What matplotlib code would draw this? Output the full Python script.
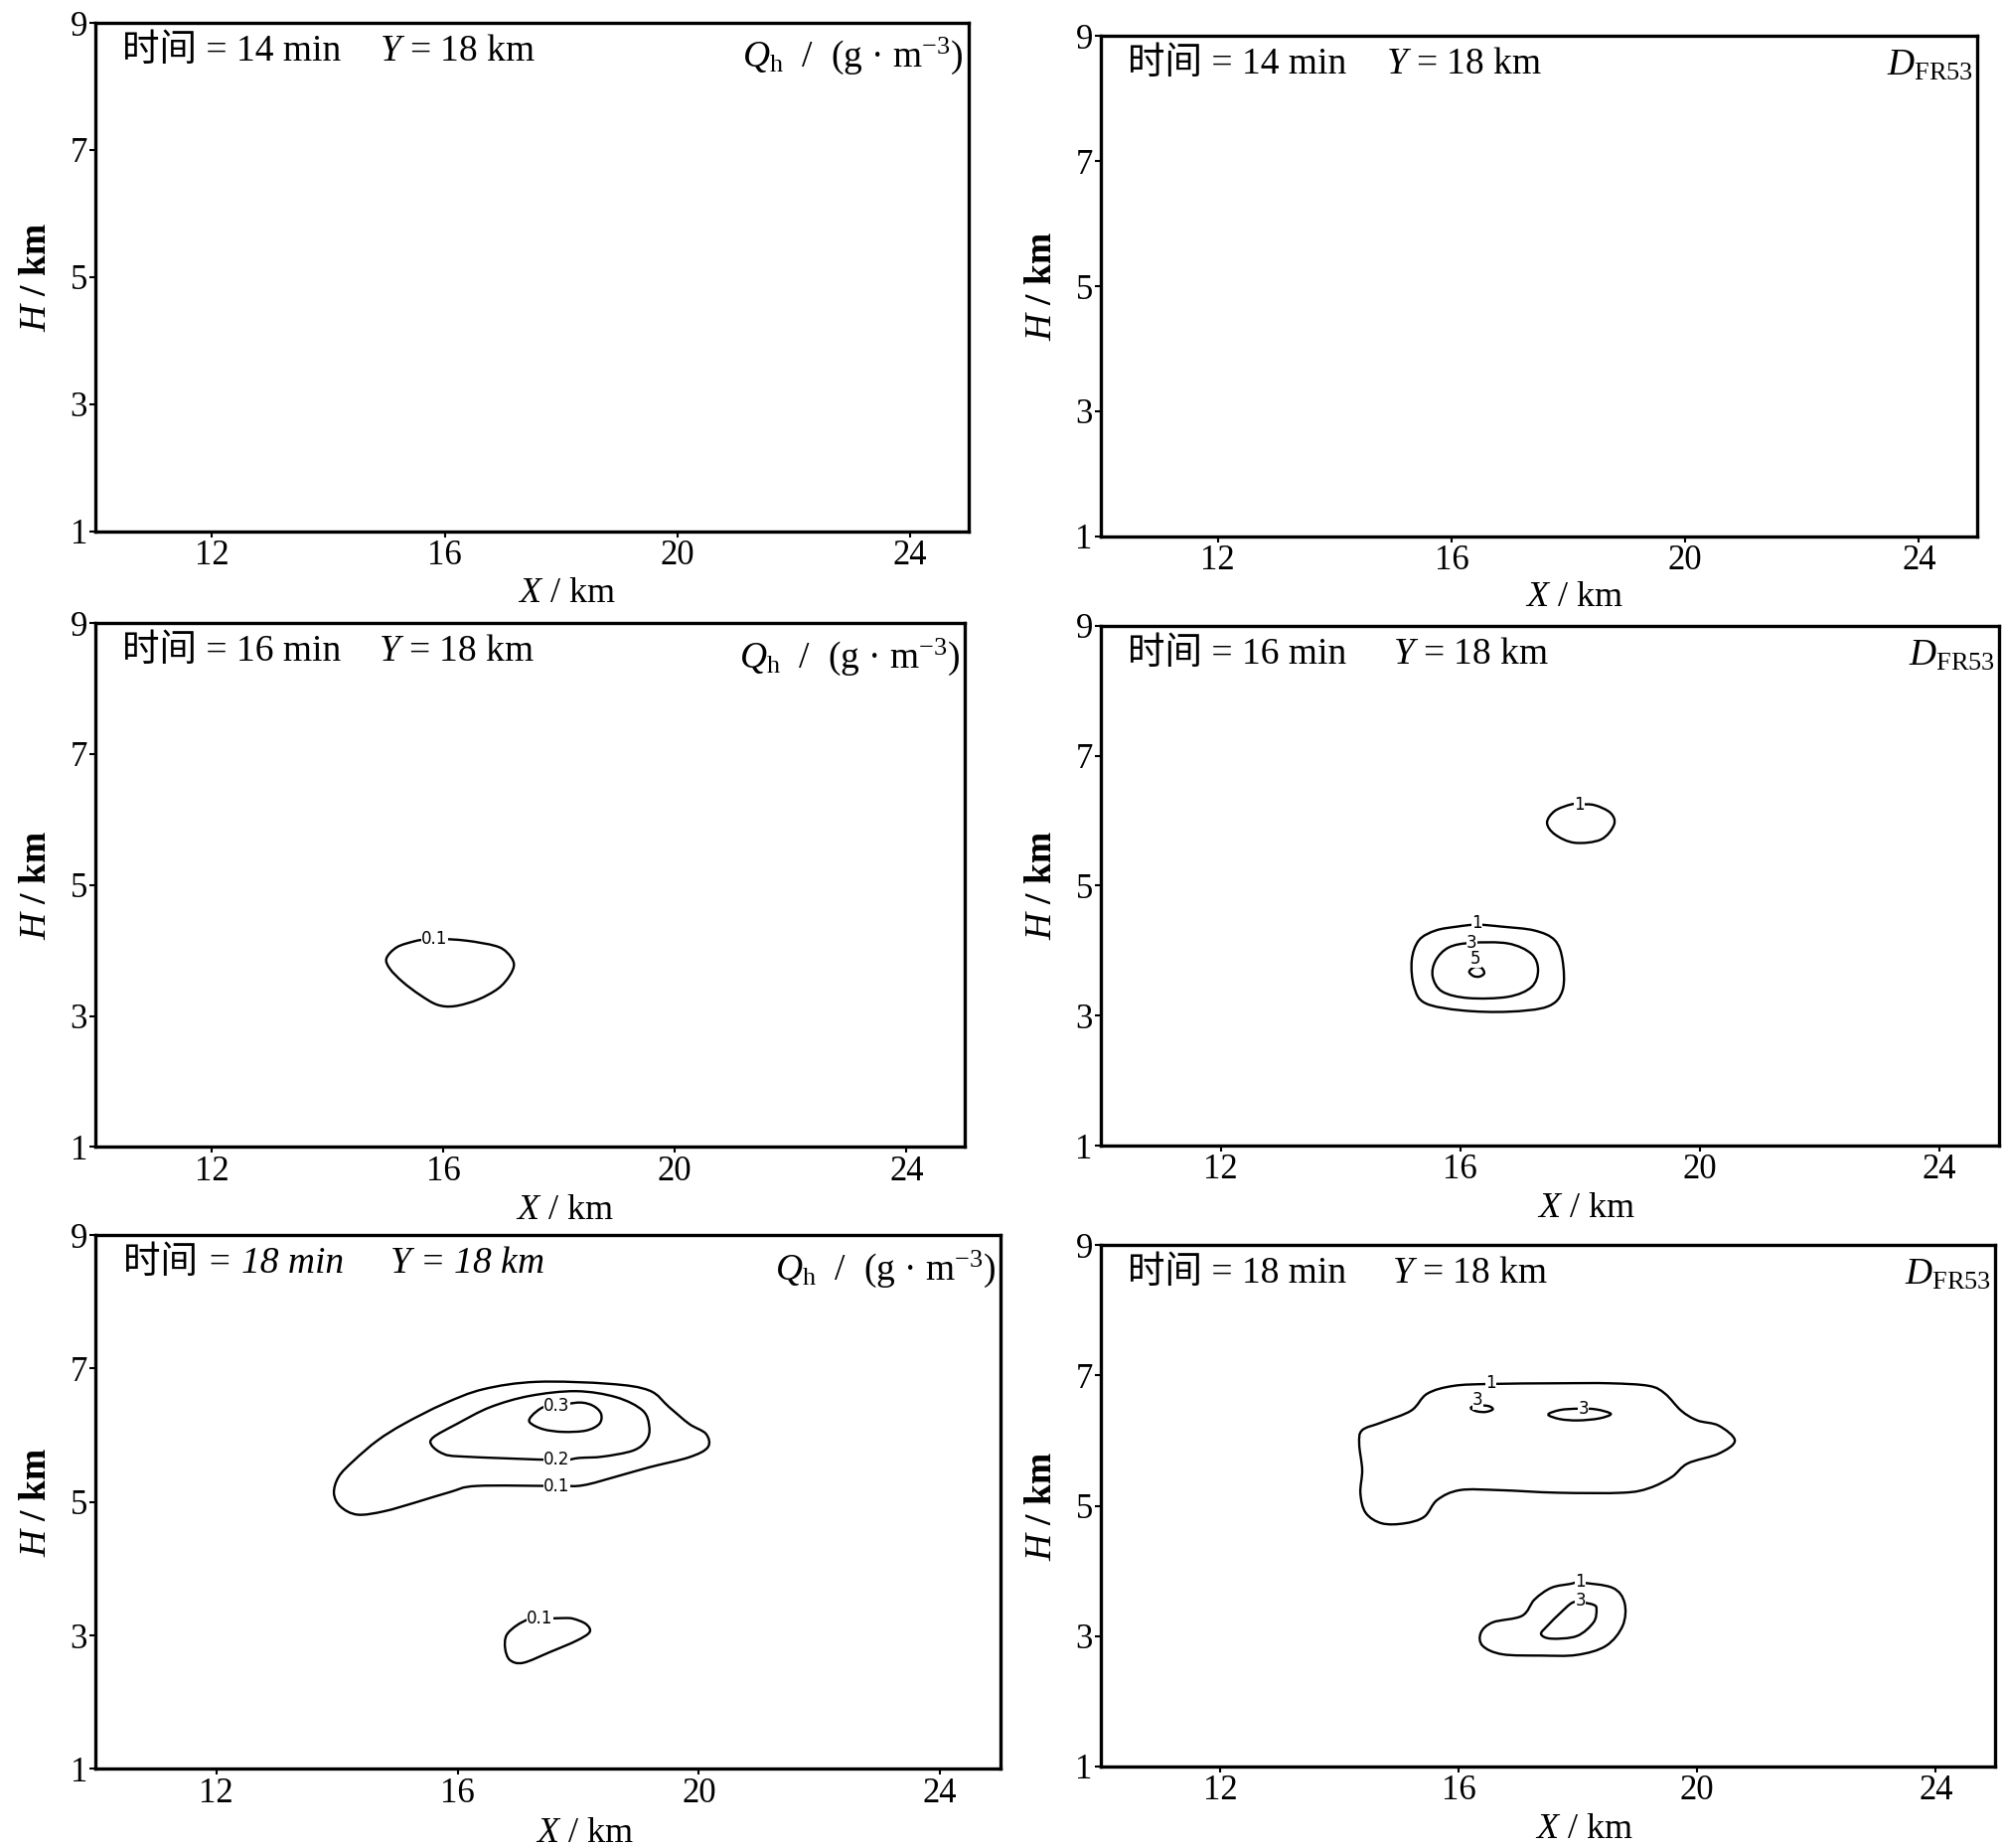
import matplotlib.pyplot as plt
import numpy as np
from matplotlib.path import Path
from matplotlib.patches import PathPatch

plt.rcParams['font.family'] = ['Liberation Serif', 'Noto Sans CJK SC']
plt.rcParams['mathtext.fontset'] = 'custom'
plt.rcParams['mathtext.rm'] = 'Liberation Serif'
plt.rcParams['mathtext.it'] = 'Liberation Serif:italic'
plt.rcParams['mathtext.bf'] = 'Liberation Serif:bold'

# panel texts
times = ['14', '16', '18']
x_ticks = [12, 16, 20, 24]
y_ticks = [1, 3, 5, 7, 9]
q_label = r'$Q_{\rm h}$  /  (g · m$^{-3}$)'
d_label = r'$D_{\rm FR53}$'

# --- Qh, 16 min ---
q16_a_x = [15.9, 16.4, 16.9, 17.1, 17.22, 17.15, 16.95, 16.6, 16.2, 15.9, 15.6, 15.3, 15.08, 15.02, 15.2, 15.5, 15.7]
q16_a_y = [4.18, 4.15, 4.07, 3.97, 3.80, 3.62, 3.42, 3.25, 3.15, 3.17, 3.32, 3.52, 3.72, 3.88, 4.05, 4.14, 4.17]
q16_labels = [(15.85, 4.18, '0.1')]

# --- Qh, 18 min ---
q18_a_x = [17.64, 18.08, 18.63, 19.18, 19.84, 20.15, 20.12, 19.84, 19.51, 19.18, 18.52, 17.31, 16.43, 15.77,
           15.11, 14.67, 14.28, 14.03, 13.95, 14.06, 14.34, 14.78, 15.33, 15.88, 16.32]
q18_a_y = [5.24, 5.25, 5.38, 5.52, 5.67, 5.82, 6.02, 6.17, 6.42, 6.67, 6.77, 6.80, 6.69, 6.47,
           6.17, 5.92, 5.62, 5.38, 5.13, 4.93, 4.81, 4.86, 5.00, 5.15, 5.24]
q18_b_x = [17.64, 18.02, 18.41, 18.91, 19.13, 19.18, 19.07, 18.63, 17.97, 17.20, 16.54, 15.99, 15.60, 15.57, 15.77, 16.10]
q18_b_y = [5.63, 5.66, 5.68, 5.77, 5.92, 6.12, 6.37, 6.57, 6.66, 6.59, 6.42, 6.17, 5.97, 5.85, 5.72, 5.68]
q18_c_x = [17.64, 18.02, 18.25, 18.38, 18.35, 18.13, 17.75, 17.42, 17.20, 17.23, 17.42]
q18_c_y = [6.44, 6.49, 6.44, 6.32, 6.17, 6.07, 6.05, 6.09, 6.19, 6.29, 6.42]
q18_d_x = [17.36, 17.75, 17.92, 18.13, 18.19, 17.97, 17.53, 17.09, 16.87, 16.79, 16.81, 16.98, 17.20]
q18_d_y = [3.25, 3.26, 3.25, 3.17, 3.05, 2.92, 2.75, 2.59, 2.63, 2.80, 3.00, 3.15, 3.25]
q18_labels = [(17.64, 5.24, '0.1'), (17.64, 5.63, '0.2'), (17.64, 6.44, '0.3'), (17.36, 3.25, '0.1')]

# --- D, 16 min ---
d16_a_x = [17.99, 18.24, 18.51, 18.57, 18.35, 17.91, 17.58, 17.45, 17.58, 17.85]
d16_a_y = [6.25, 6.24, 6.12, 5.94, 5.71, 5.66, 5.79, 5.97, 6.15, 6.25]
d16_b_x = [16.28, 16.69, 17.24, 17.58, 17.71, 17.71, 17.46, 16.80, 16.03, 15.42, 15.23, 15.19, 15.31, 15.59, 15.95]
d16_b_y = [4.40, 4.37, 4.31, 4.16, 3.85, 3.39, 3.14, 3.06, 3.08, 3.19, 3.44, 3.85, 4.16, 4.31, 4.37]
d16_c_x = [16.19, 16.80, 17.19, 17.30, 17.19, 16.80, 16.14, 15.70, 15.54, 15.59, 15.81]
d16_c_y = [4.12, 4.11, 3.95, 3.70, 3.44, 3.29, 3.27, 3.37, 3.60, 3.85, 4.05]
d16_d_x = [16.15, 16.22, 16.32, 16.40, 16.36, 16.25]
d16_d_y = [3.68, 3.61, 3.60, 3.65, 3.73, 3.75]
d16_labels = [(17.99, 6.25, '1'), (16.28, 4.42, '1'), (16.19, 4.12, '3'), (16.26, 3.88, '5')]

# --- D, 18 min ---
d18_a_x = [16.54, 17.66, 18.53, 19.19, 19.46, 19.73, 20.00, 20.36, 20.63, 20.36, 19.84, 19.57, 19.19, 18.75,
           17.66, 16.67, 16.02, 15.64, 15.42, 15.09, 14.71, 14.44, 14.35, 14.38, 14.33, 14.38, 14.71, 15.20,
           15.47, 15.91]
d18_a_y = [6.87, 6.88, 6.88, 6.84, 6.72, 6.46, 6.31, 6.23, 6.00, 5.80, 5.65, 5.44, 5.27, 5.20,
           5.20, 5.24, 5.24, 5.09, 4.83, 4.73, 4.73, 4.89, 5.19, 5.55, 5.95, 6.16, 6.28, 6.46,
           6.72, 6.84]
d18_b_x = [16.20, 16.30, 16.45, 16.57, 16.50, 16.30]
d18_b_y = [6.50, 6.45, 6.44, 6.48, 6.53, 6.54]
d18_c_x = [17.50, 17.70, 18.00, 18.30, 18.55, 18.35, 18.00, 17.70]
d18_c_y = [6.40, 6.47, 6.49, 6.48, 6.41, 6.34, 6.31, 6.33]
d18_d_x = [18.04, 18.58, 18.78, 18.75, 18.47, 17.98, 17.38, 16.73, 16.40, 16.37, 16.57, 17.06, 17.27, 17.55, 17.87]
d18_d_y = [3.82, 3.74, 3.51, 3.16, 2.85, 2.71, 2.70, 2.72, 2.85, 3.05, 3.21, 3.31, 3.56, 3.74, 3.80]
d18_e_x = [18.04, 18.26, 18.31, 18.26, 17.98, 17.55, 17.38, 17.49, 17.71, 17.90]
d18_e_y = [3.52, 3.48, 3.41, 3.21, 3.00, 2.96, 3.03, 3.16, 3.36, 3.51]
d18_labels = [(16.54, 6.88, '1'), (16.32, 6.62, '3'), (18.09, 6.49, '3'), (18.04, 3.84, '1'), (18.04, 3.54, '3')]

# axes rectangles (fig fraction): left, bottom, width, height
boxes = [
    [0.0478, 0.7125, 0.4356, 0.2751],
    [0.5497, 0.7097, 0.4375, 0.2709],
    [0.0478, 0.3794, 0.4337, 0.2834],
    [0.5497, 0.3801, 0.4483, 0.2813],
    [0.0478, 0.0428, 0.4516, 0.2889],
    [0.5497, 0.0442, 0.4465, 0.2820],
]

panels = [
    ([], []),
    ([], []),
    ([(q16_a_x, q16_a_y)], q16_labels),
    ([(d16_a_x, d16_a_y), (d16_b_x, d16_b_y), (d16_c_x, d16_c_y), (d16_d_x, d16_d_y)], d16_labels),
    ([(q18_a_x, q18_a_y), (q18_b_x, q18_b_y), (q18_c_x, q18_c_y), (q18_d_x, q18_d_y)], q18_labels),
    ([(d18_a_x, d18_a_y), (d18_b_x, d18_b_y), (d18_c_x, d18_c_y), (d18_d_x, d18_d_y), (d18_e_x, d18_e_y)], d18_labels),
]


def closed_curve(xs, ys):
    # closed bezier path through the given vertices (catmull-rom style handles)
    p = np.column_stack([xs, ys])
    n = len(p)
    verts = [p[0]]
    codes = [Path.MOVETO]
    for k in range(n):
        p0, p1, p2, p3 = p[k - 1], p[k], p[(k + 1) % n], p[(k + 2) % n]
        verts += [p1 + (p2 - p0) / 6, p2 - (p3 - p1) / 6, p2]
        codes += [Path.CURVE4] * 3
    return Path(verts, codes)


fig = plt.figure(figsize=(20.16, 18.6), dpi=100)

for i, (box, (lines, labels)) in enumerate(zip(boxes, panels)):
    ax = fig.add_axes(box)
    ax.set_xlim(10, 25)
    ax.set_ylim(1, 9)
    ax.set_xticks(x_ticks)
    ax.set_yticks(y_ticks)
    ax.tick_params(direction='out', length=4, width=1.5, labelsize=25, pad=2)
    for sp in ax.spines.values():
        sp.set_linewidth(2.4)

    for xs, ys in lines:
        ax.add_patch(PathPatch(closed_curve(xs, ys), facecolor='none', edgecolor='black', lw=1.7))
    for lx, ly, txt in labels:
        ax.text(lx, ly, txt, fontsize=12, family='DejaVu Sans', ha='center', va='center',
                bbox=dict(facecolor='white', edgecolor='none', pad=0.3))

    ax.set_xlabel(r'$X$ / km', fontsize=26, labelpad=0)
    ax.xaxis.set_label_coords(0.54, -0.09)
    ax.set_ylabel(r'$H$ / km', fontsize=27, labelpad=12, fontweight='bold')

    italic = 'italic' if i == 4 else 'normal'
    t = times[i // 2]
    ax.text(0.03, 0.978, '时间 = ' + t + ' min', transform=ax.transAxes, fontsize=27,
            ha='left', va='top', style=italic)
    ax.text(0.325, 0.978, r'$Y$ = 18 km', transform=ax.transAxes, fontsize=27,
            ha='left', va='top', style=italic)
    corner = q_label if i % 2 == 0 else d_label
    ax.text(0.995, 0.975, corner, transform=ax.transAxes, fontsize=27, ha='right', va='top')

fig.savefig('out.png', dpi=100, facecolor='white')
